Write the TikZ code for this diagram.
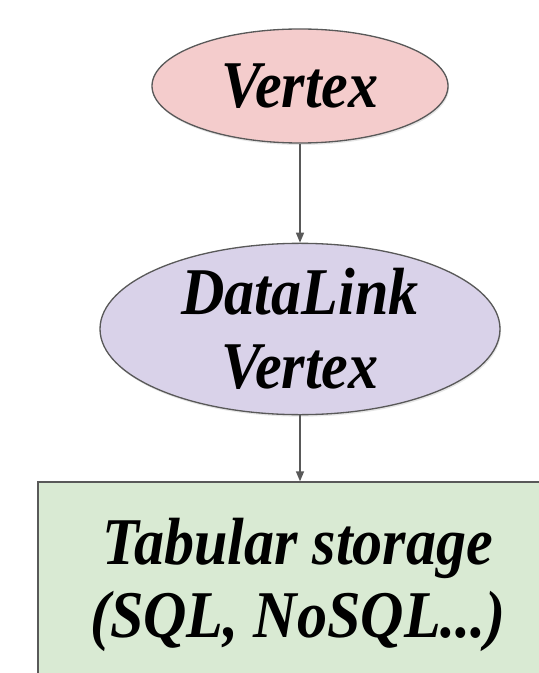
\documentclass[tikz,border=0pt]{standalone}
\usepackage{fontspec}
\usepackage{xcolor}
\usepackage{tikz}
\usetikzlibrary{arrows.meta,positioning,shapes.geometric,shadows}
\newfontfamily\vtxfont[FakeStretch=0.9]{Liberation Serif}
\definecolor{vtxpink}{RGB}{244,204,204}
\definecolor{vtxlilac}{RGB}{217,210,233}
\definecolor{vtxgreen}{RGB}{217,234,211}
\definecolor{vtxline}{RGB}{89,89,89}

\tikzset{
  vtxnode/.style={draw=vtxline, line width=0.75pt, inner sep=0pt, align=center,
    font=\vtxfont\bfseries\itshape\fontsize{38}{42}\selectfont,
    drop shadow={shadow xshift=0.02cm, shadow yshift=-0.04cm, opacity=0.2}},
  vtxarrow/.style={draw=vtxline, line width=0.75pt, -{Triangle[length=0.2cm, width=0.16cm]}}
}

\begin{document}
\begin{tikzpicture}
\useasboundingbox (0,0) rectangle (10.78,-13.46);
\clip (0,0) rectangle (10.78,-13.46);
\node[vtxnode, ellipse, fill=vtxpink, minimum width=5.92cm, minimum height=2.28cm] (vertex) at (6.0,-1.72) {Vertex};
\node[vtxnode, ellipse, fill=vtxlilac, minimum width=8cm, minimum height=3.12cm] (datalink) at (6.0,-6.58) {DataLink\\Vertex};
\node[vtxnode, rectangle, fill=vtxgreen, minimum width=10.4cm, minimum height=4.12cm] (storage) at (5.96,-11.7) {Tabular storage\\(SQL, NoSQL...)};
\draw[vtxarrow] (vertex) -- (datalink);
\draw[vtxarrow] (datalink) -- (datalink.south |- storage.north);
\end{tikzpicture}
\end{document}
